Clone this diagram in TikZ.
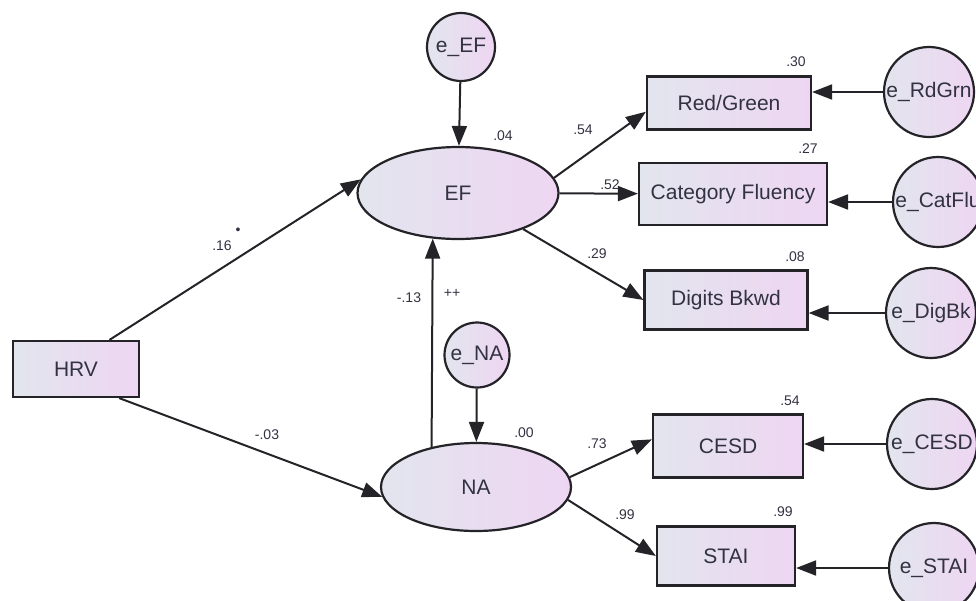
\documentclass[tikz,border=0pt]{standalone}
\usepackage{fontspec}
\setmainfont{Liberation Sans}
\usetikzlibrary{arrows.meta,shapes.geometric}
\definecolor{fillL}{RGB}{226,229,238}
\definecolor{fillR}{RGB}{238,214,242}
\definecolor{ink}{RGB}{50,50,66}
\definecolor{edge}{RGB}{35,35,40}
\tikzset{
  obs/.style={rectangle, draw=edge, line width=2.2pt, left color=fillL, right color=fillR,
    text=ink, font=\fontsize{21}{24}\selectfont, inner sep=0pt},
  lat/.style={ellipse, draw=edge, line width=2.2pt, left color=fillL, right color=fillR,
    text=ink, font=\fontsize{21}{24}\selectfont, inner sep=0pt},
  err/.style={circle, draw=edge, line width=2.2pt, left color=fillL, right color=fillR,
    text=ink, font=\fontsize{21}{24}\selectfont, inner sep=0pt},
  link/.style={draw=edge, line width=2pt, -{Triangle[length=20pt,width=15pt]}},
  coef/.style={text=ink, font=\fontsize{14}{16}\selectfont, inner sep=0pt}
}
\begin{document}
\begin{tikzpicture}[x=1pt,y=-1pt]
  \clip (0,0) rectangle (976,600);

  % exogenous and latent variables
  \node[obs, minimum width=126pt, minimum height=56pt] (HRV) at (76,369) {HRV};
  \node[lat, minimum width=201pt, minimum height=92pt] (EF) at (458,193) {EF};
  \node[lat, minimum width=190pt, minimum height=88pt] (NA) at (476,487) {NA};
  \node[err, minimum size=68pt] (eEF) at (461,47) {e\_EF};
  \node[err, minimum size=65pt] (eNA) at (477,355) {e\_NA};

  % indicators
  \node[obs, minimum width=164pt, minimum height=53pt] (RdGrn) at (729,103) {Red/Green};
  \node[obs, minimum width=188pt, minimum height=62pt] (CatFlu) at (733,194) {Category Fluency};
  \node[obs, minimum width=163pt, minimum height=59pt] (DigBk) at (726,300) {Digits Bkwd};
  \node[obs, minimum width=150pt, minimum height=63pt] (CESD) at (728,446) {CESD};
  \node[obs, minimum width=138pt, minimum height=59pt] (STAI) at (726,556) {STAI};

  % residuals
  \node[err, minimum size=90pt] (eRdGrn) at (929,92) {e\_RdGrn};
  \node[err, minimum size=90pt] (eCatFlu) at (938,202) {e\_CatFlu};
  \node[err, minimum size=90pt] (eDigBk) at (931,313) {e\_DigBk};
  \node[err, minimum size=90pt] (eCESD) at (932,444) {e\_CESD};
  \node[err, minimum size=90pt] (eSTAI) at (934,568) {e\_STAI};

  % paths
  \draw[link] (eEF) -- (EF);
  \draw[link] (eNA) -- (NA);
  \draw[link] (HRV.41) -- (EF.172);
  \draw[link] (HRV.-34) -- (NA.186);
  \draw[link] (NA.138) -- (EF.241);
  \draw[link] (EF.9) -- (RdGrn.186);
  \draw[link] (EF) -- (CatFlu);
  \draw[link] (EF.-29) -- (DigBk.west);
  \draw[link] (NA.6) -- (CESD.175);
  \draw[link] (NA.-8) -- (STAI.west);
  \draw[link] (eRdGrn.west) -- (eRdGrn.west -| RdGrn.east);
  \draw[link] (eCatFlu.west) -- (eCatFlu.west -| CatFlu.east);
  \draw[link] (eDigBk.west) -- (eDigBk.west -| DigBk.east);
  \draw[link] (eCESD.west) -- (eCESD.west -| CESD.east);
  \draw[link] (eSTAI.west) -- (eSTAI.west -| STAI.east);

  % squared multiple correlations
  \node[coef] (rEF) at (503,136) {.04};
  \node[coef] (rNA) at (524,433) {.00};
  \node[coef] (rRdGrn) at (796,62) {.30};
  \node[coef] (rCatFlu) at (808,149) {.27};
  \node[coef] (rDigBk) at (795,257) {.08};
  \node[coef] (rCESD) at (790,401) {.54};
  \node[coef] (rSTAI) at (783,512) {.99};

  % path coefficients
  \node[coef] (cHRVEF) at (222,246) {.16};
  \node[coef] (sHRVEF) at (238,231) {\textbullet};
  \node[coef] (cHRVNA) at (267,435) {-.03};
  \node[coef] (cNAEF) at (409,298) {-.13};
  \node[coef] (sNAEF) at (452,293) {++};
  \node[coef] (cRdGrn) at (583,130) {.54};
  \node[coef] (cCatFlu) at (610,185) {.52};
  \node[coef] (cDigBk) at (597,254) {.29};
  \node[coef] (cCESD) at (597,444) {.73};
  \node[coef] (cSTAI) at (625,515) {.99};
\end{tikzpicture}
\end{document}
